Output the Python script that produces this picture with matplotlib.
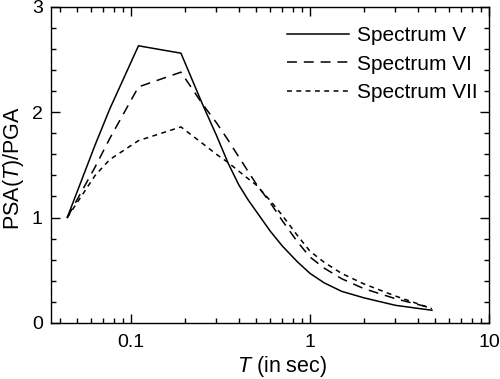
import matplotlib
matplotlib.use("Agg")
import matplotlib.pyplot as plt
from matplotlib.ticker import LogLocator, FixedLocator, MultipleLocator, FuncFormatter, NullFormatter

plt.rcParams["font.family"] = ["Liberation Sans", "DejaVu Sans"]
plt.rcParams["mathtext.fontset"] = "custom"
plt.rcParams["mathtext.rm"] = "Liberation Sans"
plt.rcParams["mathtext.it"] = "Liberation Sans:italic"

# period grid (s) and normalised spectra
period = [0.044, 0.063, 0.076, 0.11, 0.19, 0.25, 0.3, 0.35, 0.4, 0.45, 0.5,
          0.6, 0.7, 0.85, 1.0, 1.2, 1.5, 2.0, 3.0, 4.8]
spec_v = [1.0, 1.69, 2.03, 2.63, 2.56, 2.08, 1.78, 1.51, 1.31, 1.17, 1.06,
          0.87, 0.73, 0.58, 0.47, 0.38, 0.30, 0.238, 0.167, 0.12]
spec_vi = [1.0, 1.48, 1.75, 2.24, 2.38, 2.08, 1.90, 1.73, 1.575, 1.44, 1.32,
           1.14, 0.97, 0.77, 0.625, 0.52, 0.42, 0.325, 0.23, 0.14]
spec_vii = [1.0, 1.40, 1.55, 1.73, 1.86, 1.705, 1.60, 1.52, 1.44, 1.37, 1.31,
            1.16, 1.02, 0.83, 0.68, 0.575, 0.47, 0.37, 0.255, 0.135]
labels = ["Spectrum V", "Spectrum VI", "Spectrum VII"]

fig = plt.figure(figsize=(5.0, 3.79), dpi=100)
ax = fig.add_axes([0.102, 0.148, 0.876, 0.834])

lw = 1.1
ax.plot(period, spec_v, color="black", lw=lw, label=labels[0])
ax.plot(period, spec_vi, color="black", lw=lw, dashes=(6.5, 4.5), label=labels[1])
ax.plot(period, spec_vii, color="black", lw=lw, dashes=(3.2, 2.9), label=labels[2])

ax.set_xscale("log")
ax.set_xlim(0.0357, 10)
ax.set_ylim(0, 3)

ax.xaxis.set_major_locator(FixedLocator([0.1, 1, 10]))
ax.xaxis.set_major_formatter(FuncFormatter(lambda v, p: f"{v:g}"))
ax.xaxis.set_minor_locator(LogLocator(base=10, subs=range(2, 10), numticks=20))
ax.xaxis.set_minor_formatter(NullFormatter())
ax.yaxis.set_major_locator(MultipleLocator(1))
ax.yaxis.set_minor_locator(MultipleLocator(0.2))

ax.tick_params(which="both", direction="in", top=True, right=True,
               width=1.0, colors="black", labelsize=14)
ax.tick_params(which="major", length=6.5)
ax.tick_params(axis="x", which="major", pad=8)
ax.tick_params(axis="y", which="major", pad=6)
ax.tick_params(which="minor", length=3.6)
for s in ax.spines.values():
    s.set_linewidth(1.0)

ax.set_xlabel(r"$\mathit{T}$ (in sec)", fontsize=15.5, labelpad=2.5, x=0.527)
ax.set_ylabel(r"PSA($\mathit{T}$)/PGA", fontsize=15.5, labelpad=4.5, y=0.49)

ax.legend(loc="upper right", frameon=False, fontsize=15, handlelength=3.0,
          handletextpad=0.35, labelspacing=0.45, borderaxespad=0,
          bbox_to_anchor=(0.992, 0.965))

fig.savefig("out.png", dpi=100)
